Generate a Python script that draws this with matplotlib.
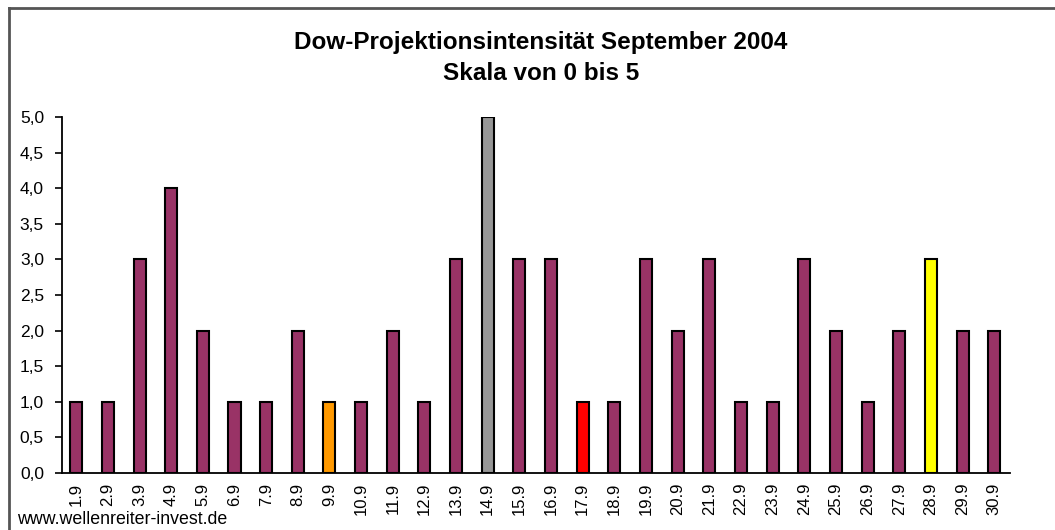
import matplotlib
matplotlib.use("Agg")
import matplotlib.pyplot as plt
from matplotlib.lines import Line2D

plt.rcParams['font.family'] = ['Liberation Sans', 'DejaVu Sans']

dates = ["1.9", "2.9", "3.9", "4.9", "5.9", "6.9", "7.9", "8.9", "9.9", "10.9",
         "11.9", "12.9", "13.9", "14.9", "15.9", "16.9", "17.9", "18.9", "19.9", "20.9",
         "21.9", "22.9", "23.9", "24.9", "25.9", "26.9", "27.9", "28.9", "29.9", "30.9"]
values = [1, 1, 3, 4, 2, 1, 1, 2, 1, 1,
          2, 1, 3, 5, 3, 3, 1, 1, 3, 2,
          3, 1, 1, 3, 2, 1, 2, 3, 2, 2]
highlight = {"9.9": "#FF9900", "14.9": "#969696", "17.9": "#FF0000", "28.9": "#FFFF00"}
base_color = "#993366"
yticks = [0, 0.5, 1, 1.5, 2, 2.5, 3, 3.5, 4, 4.5, 5]
title_lines = ["Dow-Projektionsintensität September 2004", "Skala von 0 bis 5"]
footer = "www.wellenreiter-invest.de"

colors = [highlight.get(d, base_color) for d in dates]

fig = plt.figure(figsize=(10.55, 5.3), dpi=100)
ax = fig.add_axes([62/1055, 57/530, (1010-62)/1055, (473-117)/530])

x = range(len(dates))
ax.bar(x, values, width=0.38, color=colors, edgecolor="black", linewidth=1.5, zorder=3)

ax.set_xlim(-0.45, len(dates) - 0.5)
ax.set_ylim(0, 5)
ax.set_yticks(yticks)
ax.set_yticklabels([f"{v:.1f}".replace(".", ",") for v in yticks], fontsize=12.5)
ax.set_xticks(list(x))
ax.set_xticklabels(dates, rotation=90, fontsize=12)
ax.tick_params(axis='x', length=0, pad=7)
ax.tick_params(axis='y', length=5, width=1.2, direction='out', pad=8)
for s in ["top", "right"]:
    ax.spines[s].set_visible(False)
ax.spines["left"].set_linewidth(1.3)
ax.spines["bottom"].set_linewidth(1.3)

fig.text(541/1055, 1 - 42/530, title_lines[0], ha="center", va="center",
         fontsize=17.5, fontweight="bold")
fig.text(541/1055, 1 - 73/530, title_lines[1], ha="center", va="center",
         fontsize=17.5, fontweight="bold")
fig.text(17/1055, 1 - 520/530, footer, ha="left", va="center", fontsize=12.8)

# outer frame (top and left edges visible)
fig.add_artist(Line2D([9/1055, 9/1055], [0, 1 - 8/530], transform=fig.transFigure,
                      color="#555555", linewidth=2))
fig.add_artist(Line2D([9/1055, 1], [1 - 8/530, 1 - 8/530], transform=fig.transFigure,
                      color="#555555", linewidth=2))

fig.savefig("out.png", dpi=100)
